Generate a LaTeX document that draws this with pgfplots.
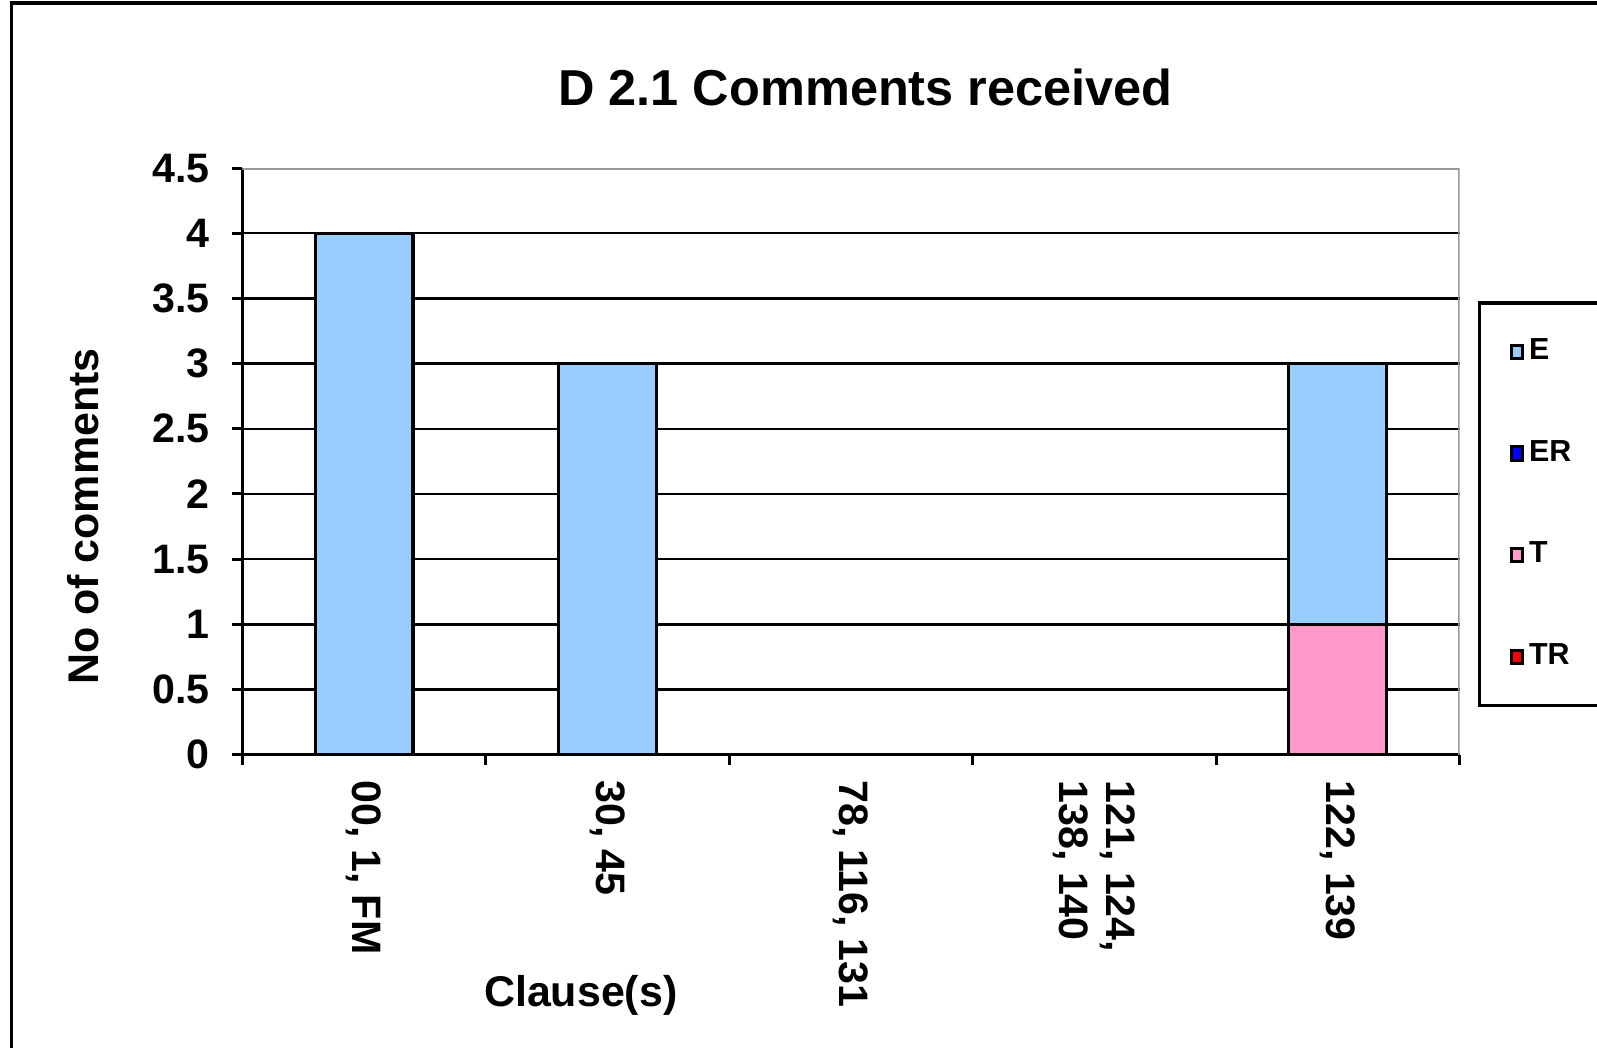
\documentclass[border=0pt]{standalone}
\usepackage{pgfplots}
\pgfplotsset{compat=1.18}
\usepackage{fontspec}
\setmainfont{Liberation Sans}
\definecolor{cE}{HTML}{99CCFF}
\definecolor{cER}{HTML}{0000FF}
\definecolor{cT}{HTML}{FF99CC}
\definecolor{cTR}{HTML}{FF0000}
\begin{document}
\begin{tikzpicture}
\useasboundingbox (0,0) rectangle (15.68cm,10.28cm);
\draw[line width=0.9pt] (0.11cm,-1cm) -- (0.11cm,10.25cm) -- (17cm,10.25cm);
\begin{axis}[
 at={(2.38cm,2.87cm)}, anchor=south west,
 scale only axis, width=11.95cm, height=5.76cm,
 ybar stacked, bar width=0.96cm,
 xmin=-0.5, xmax=4.5, ymin=0, ymax=4.5,
 xtick={-0.5,0.5,1.5,2.5,3.5,4.5},
 x tick label as interval,
 xticklabels={{00, 1, FM},{30, 45},{78, 116, 131},{121, 124,\\138, 140},{122, 139}},
 ytick={0,0.5,1,1.5,2,2.5,3,3.5,4},
 extra y ticks={4.5}, extra y tick style={grid=none},
 ymajorgrids, major grid style={black,line width=0.7pt},
 axis x line*=bottom, axis y line*=left,
 axis line style={-,black,line width=0.85pt},
 tick align=outside, major tick length=0.1cm,
 tick style={black,line width=0.85pt},
 /pgf/number format/assume math mode=true,
 ticklabel style={font=\bfseries\fontsize{11.5}{13}\selectfont},
 xticklabel style={rotate=-90, anchor=west, align=left, xshift=0.03cm},
 yticklabel style={xshift=-0.1cm},
 title={D 2.1 Comments received},
 title style={at={(axis description cs:0.512,1.10)}, anchor=center, font=\bfseries\fontsize{14.1}{16}\selectfont},
 ylabel={No of comments},
 ylabel style={at={(axis description cs:-0.1305,0.406)}, anchor=center, font=\bfseries\fontsize{12}{14}\selectfont},
 xlabel={Clause(s)},
 xlabel style={at={(axis description cs:0.278,-0.41)}, anchor=center, font=\bfseries\fontsize{12}{14}\selectfont},
 reverse legend,
 legend style={at={(1.0151,0.7726)}, anchor=north west, draw=black, line width=0.85pt,
   inner xsep=0.3cm, inner ysep=0.30cm, row sep=0.64cm,
   font=\bfseries\fontsize{8.5}{10}\selectfont,
   nodes={inner sep=0.05cm},
   every even column/.style={text width=2.2cm}},
 legend cell align=left,
 legend image code/.code={\draw[#1,draw=black,line width=0.8pt] (0cm,-0.065cm) rectangle (0.11cm,0.065cm);},
]
\addplot[fill=cTR, draw=black, line width=0.85pt] coordinates {(0,0) (1,0) (2,0) (3,0) (4,0)};
\addplot[fill=cT, draw=black, line width=0.85pt] coordinates {(0,0) (1,0) (2,0) (3,0) (4,1)};
\addplot[fill=cER, draw=black, line width=0.85pt] coordinates {(0,0) (1,0) (2,0) (3,0) (4,0)};
\addplot[fill=cE, draw=black, line width=0.85pt] coordinates {(0,4) (1,3) (2,0) (3,0) (4,2)};
\legend{TR,T,ER,E}
\draw[gray!80, line width=0.85pt] (rel axis cs:0,1) -- (rel axis cs:1,1) -- (rel axis cs:1,0);
\end{axis}
\end{tikzpicture}
\end{document}
